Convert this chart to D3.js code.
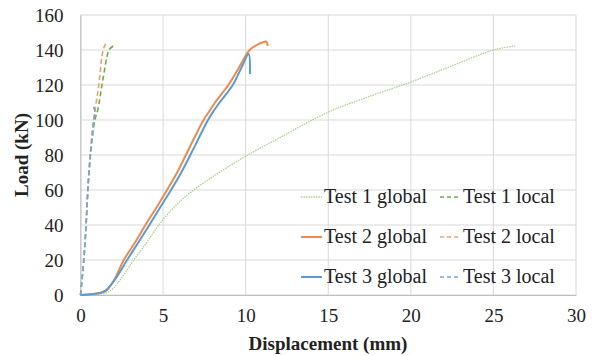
<!DOCTYPE html>
<html>
<head>
<meta charset="utf-8">
<script src="https://cdn.jsdelivr.net/npm/d3@7"></script>
<style>
  body { margin: 0; background: #fff; }
</style>
</head>
<body>
<div id="chart"></div>
<script>
// values
const xTicks = [0, 5, 10, 15, 20, 25, 30];
const yTicks = [0, 20, 40, 60, 80, 100, 120, 140, 160];

const t1GlobalX = [0, 0.5, 1.0, 1.5, 2.0, 2.5, 3.23, 4.0, 4.74, 5.5, 6.2, 6.85, 7.86, 8.47, 10, 12.1, 15, 17.5, 20, 22.5, 25, 26.3];
const t1GlobalY = [0, 0.2, 0.4, 1, 4, 10, 20, 30, 40, 48.5, 55, 60, 66.7, 70.5, 79.3, 90.1, 104.5, 113.5, 121.7, 131, 140, 142.3];
const t1LocalX = [0, 0.2, 0.34, 0.45, 0.6, 0.72, 0.87, 1.05, 1.3, 1.6, 1.72, 1.98];
const t1LocalY = [0, 20, 40, 60, 80, 90, 100, 106, 120, 136, 140, 142.3];

const t2GlobalX = [0, 0.5, 1.0, 1.5, 2.0, 2.62, 3.3, 3.93, 4.6, 5.24, 5.85, 6.38, 6.9, 7.45, 7.8, 8.15, 8.95, 9.6, 10.24, 10.7, 11.0, 11.25, 11.33];
const t2GlobalY = [0, 0.3, 1, 2, 8, 20, 30, 40, 50, 60, 70, 80, 90, 100, 105, 110, 120, 130, 140, 143, 144.3, 144.8, 142.3];
const t2LocalX = [0, 0.2, 0.33, 0.44, 0.58, 0.8, 0.95, 1.11, 1.37, 1.58];
const t2LocalY = [0, 20, 40, 60, 80, 100, 110, 120, 140, 144.8];

const t3GlobalX = [0, 0.5, 1.0, 1.5, 2.1, 2.82, 3.5, 4.17, 4.82, 5.48, 6.1, 6.65, 7.18, 7.72, 8.05, 8.42, 9.22, 9.75, 10.18, 10.26];
const t3GlobalY = [0, 0.3, 0.8, 2.5, 9, 20, 30, 40, 50, 60, 70, 80, 90, 100, 105, 110, 120, 130, 137.7, 126.3];
const t3LocalX = [0, 0.2, 0.34, 0.44, 0.6, 0.8, 0.88, 0.72];
const t3LocalY = [0, 20, 40, 60, 80, 100, 105, 108.6];

const series = [
  { name: "Test 1 global", xs: t1GlobalX, ys: t1GlobalY, color: "#a9d18e", width: 1.3, dash: "1.5,1" },
  { name: "Test 1 local",  xs: t1LocalX,  ys: t1LocalY,  color: "#70ad47", width: 1.6, dash: "5,3" },
  { name: "Test 2 global", xs: t2GlobalX, ys: t2GlobalY, color: "#f08a4b", width: 2, dash: null },
  { name: "Test 2 local",  xs: t2LocalX,  ys: t2LocalY,  color: "#f4a06a", width: 1.6, dash: "5,3" },
  { name: "Test 3 global", xs: t3GlobalX, ys: t3GlobalY, color: "#5b9bd5", width: 2, dash: null },
  { name: "Test 3 local",  xs: t3LocalX,  ys: t3LocalY,  color: "#6fa8dc", width: 1.6, dash: "5,3" }
];

const FONT = "Liberation Serif";
const width = 598, height = 356;
const svg = d3.select("#chart").append("svg")
  .attr("width", width)
  .attr("height", height)
  .attr("font-family", FONT);

const x = d3.scaleLinear().domain([0, 30]).range([80.5, 576]);
const y = d3.scaleLinear().domain([0, 160]).range([295, 15]);

// grid
svg.append("g").selectAll("line.v")
  .data(xTicks)
  .enter().append("line")
  .attr("x1", d => x(d)).attr("x2", d => x(d))
  .attr("y1", y(0)).attr("y2", y(160))
  .attr("stroke", "#d9d9d9").attr("stroke-width", 1);

svg.append("g").selectAll("line.h")
  .data(yTicks)
  .enter().append("line")
  .attr("x1", x(0)).attr("x2", x(30))
  .attr("y1", d => y(d)).attr("y2", d => y(d))
  .attr("stroke", "#d9d9d9").attr("stroke-width", 1);

// axes
const xAxis = svg.append("g")
  .attr("transform", "translate(0," + y(0) + ")")
  .call(d3.axisBottom(x).tickValues(xTicks).tickSize(0).tickPadding(14));
xAxis.attr("font-family", FONT).attr("font-size", 19);
xAxis.select(".domain").attr("stroke", "#bfbfbf");
xAxis.selectAll("text").attr("font-family", FONT).attr("font-size", 19).attr("fill", "#222");

const yAxis = svg.append("g")
  .attr("transform", "translate(" + x(0) + ",0)")
  .call(d3.axisLeft(y).tickValues(yTicks).tickSize(0).tickPadding(17));
yAxis.attr("font-family", FONT).attr("font-size", 19);
yAxis.select(".domain").attr("stroke", "#bfbfbf");
yAxis.selectAll("text").attr("font-family", FONT).attr("font-size", 19).attr("fill", "#222");

// axis titles
svg.append("text")
  .attr("x", 328).attr("y", 350)
  .attr("text-anchor", "middle")
  .attr("font-family", FONT).attr("font-size", 19).attr("font-weight", "bold")
  .attr("fill", "#222")
  .text("Displacement (mm)");

svg.append("text")
  .attr("transform", "translate(28,155) rotate(-90)")
  .attr("text-anchor", "middle")
  .attr("font-family", FONT).attr("font-size", 19).attr("font-weight", "bold")
  .attr("fill", "#222")
  .text("Load (kN)");

// curves
const line = d3.line()
  .curve(d3.curveCatmullRom.alpha(0.5))
  .x(d => x(d[0]))
  .y(d => y(d[1]));

svg.append("g").selectAll("path")
  .data(series)
  .enter().append("path")
  .attr("d", s => line(s.xs.map((v, i) => [v, s.ys[i]])))
  .attr("fill", "none")
  .attr("stroke", s => s.color)
  .attr("stroke-width", s => s.width)
  .attr("stroke-dasharray", s => s.dash)
  .attr("stroke-linejoin", "round");

// legend, two columns
const legend = svg.append("g").selectAll("g")
  .data(series)
  .enter().append("g")
  .attr("transform", (s, i) => "translate(" + (i % 2 === 0 ? 301 : 440) + "," + (197 + Math.floor(i / 2) * 40) + ")");

legend.append("line")
  .attr("x1", 0).attr("x2", 21)
  .attr("y1", 0).attr("y2", 0)
  .attr("stroke", s => s.color)
  .attr("stroke-width", s => s.width)
  .attr("stroke-dasharray", s => s.dash ? (s.dash === "5,3" ? "4,3" : s.dash) : null);

legend.append("text")
  .attr("x", 23).attr("y", 6)
  .attr("font-family", FONT).attr("font-size", 20)
  .attr("fill", "#222")
  .text(s => s.name);
</script>
</body>
</html>
